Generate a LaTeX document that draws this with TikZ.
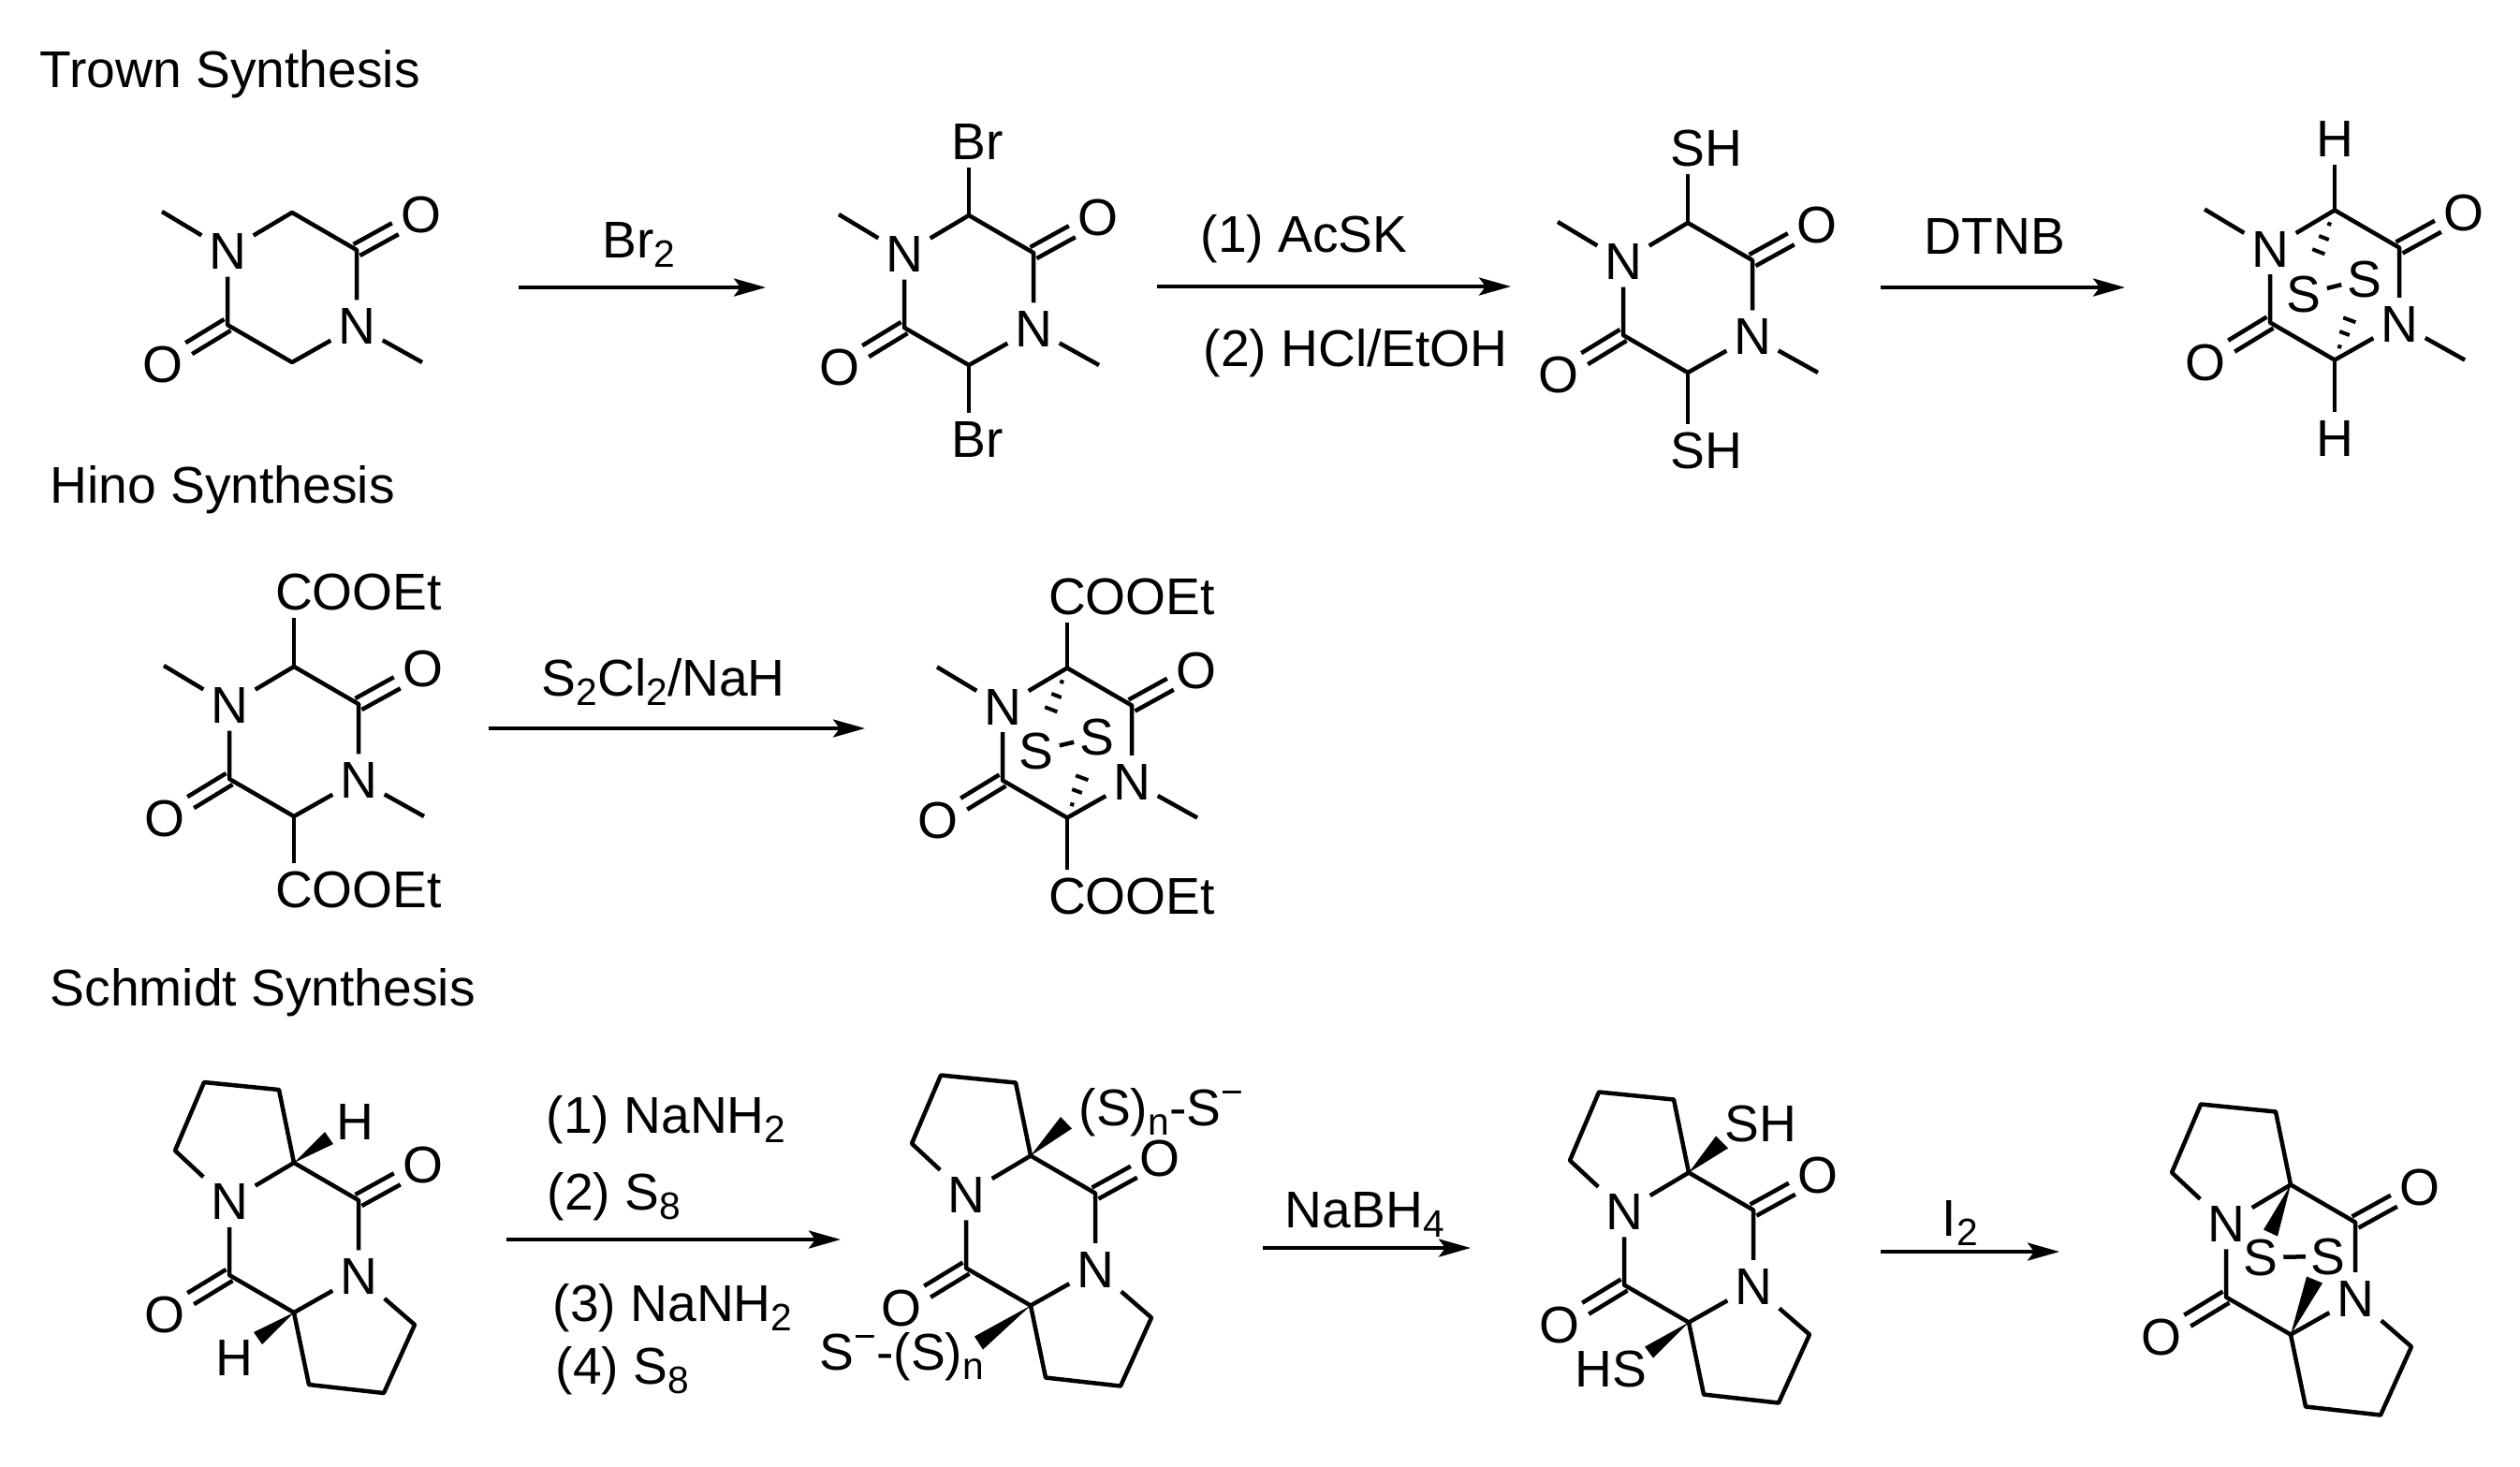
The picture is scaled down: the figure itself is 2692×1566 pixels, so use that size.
\documentclass[tikz,border=0pt]{standalone}
\usepackage{fontspec}
\setmainfont{Liberation Sans}
\usetikzlibrary{calc,arrows.meta}
\def\chemsub#1{\raisebox{-3.1pt}{\fontsize{11.6}{12}\selectfont #1}}
\def\chemsup#1{\raisebox{6.2pt}{\fontsize{11.6}{12}\selectfont #1}}
\tikzset{
	bond/.style={line width=0.045cm,line join=round},
	hash/.style={line width=0.04cm},
	atom/.style={rectangle,inner sep=0pt,minimum width=0.54cm,minimum height=0.54cm,text height=11.2pt,text depth=0pt},
	lbl/.style={anchor=base west,inner sep=0pt},
	dblup/.style={transform canvas={shift={(-3.5,-6)}}},
	dbldown/.style={transform canvas={shift={(3.5,6)}}},
	rxn/.style={line width=0.04cm,-{Stealth[length=0.34cm,width=0.19cm,inset=0.07cm]}}
}
\def\dkp#1(#2,#3){
	\begin{scope}[shift={(#2,#3)}]
		\coordinate (#1ct) at (0,-80);
		\coordinate (#1co) at (69,-40);
		\coordinate (#1cb) at (0,80);
		\coordinate (#1cp) at (-69,40);
		\coordinate (#1ma) at (-139,-81);
		\coordinate (#1mb) at (139,80);
		\coordinate (#1ra) at (-127,-93);
		\coordinate (#1rb) at (-96,-166);
		\coordinate (#1rc) at (-16,-158);
		\coordinate (#1rd) at (129,93);
		\coordinate (#1re) at (96,166);
		\coordinate (#1rf) at (16,157);
		\node[atom] (#1n) at (-69,-39) {N};
		\node[atom] (#1m) at (69,41) {N};
		\node[atom] (#1o) at (138,-78) {O};
		\node[atom] (#1p) at (-138,82) {O};
		\draw[bond] (#1n) -- (#1ct) -- (#1co) -- (#1m) -- (#1cb) -- (#1cp) -- (#1n);
		\draw[bond,dblup] (#1co) -- (#1o);
		\draw[bond,dbldown] (#1co) -- (#1o);
		\draw[bond,dblup] (#1cp) -- (#1p);
		\draw[bond,dbldown] (#1cp) -- (#1p);
	\end{scope}
}
\def\dkpmethyl#1{\draw[bond] (#1n) -- (#1ma); \draw[bond] (#1m) -- (#1mb);}
\def\dkpprolyl#1{
	\draw[bond] (#1n) -- (#1ra) -- (#1rb) -- (#1rc) -- (#1ct);
	\draw[bond] (#1m) -- (#1rd) -- (#1re) -- (#1rf) -- (#1cb);
}
\def\wedgebond(#1)(#2)(#3){\fill (#1) -- ($(#1)+(#2)$) -- ($(#1)+(#3)$) -- cycle;}
\def\hashbond(#1)(#2){
	\coordinate (hashend) at ($(#1)+(#2)$);
	\foreach \hpos/\hwid in {0.25/0.6,0.5/1.6,0.75/2,1/2.6}{
		\coordinate (hashmid) at ($(#1)!\hpos!(hashend)$);
		\draw[hash] ($(hashmid)!\hwid pt!90:(hashend)$) -- ($(hashmid)!\hwid pt!-90:(hashend)$);
	}
}

\begin{document}
\begin{tikzpicture}[x=0.01cm,y=-0.01cm,every node/.style={font=\fontsize{15.7}{18}\selectfont}]
			\useasboundingbox (0,0) rectangle (2692,1566);
			
			%%%%% TROWN %%%%%
			
			\node[lbl] (trownlabel) at (42,93) {Trown Synthesis};
			
			\dkp{t1}(312,307)
			\dkpmethyl{t1}
			
			\coordinate (a1s) at (554,307);
			\coordinate (a1e) at (818,307);
			\draw[rxn] (a1s) -- (a1e);
			\node[lbl] (a1top) at (643,275) {Br\chemsub{2}};
			
			\dkp{t2}(1035,310)
			\dkpmethyl{t2}
			\node[atom] (t2x) at (1035,151) {B\rlap{r}};
			\node[atom] (t2y) at (1035,469) {B\rlap{r}};
			\draw[bond] (t2ct) -- (t2x);
			\draw[bond] (t2cb) -- (t2y);
			
			\coordinate (a2s) at (1236,306);
			\coordinate (a2e) at (1614,306);
			\draw[rxn] (a2s) -- (a2e);
			\node[lbl] (a2top) at (1282,269) {(1) AcSK};
			\node[lbl] (a2bot) at (1285,391) {(2) HCl/EtOH};
			
			\dkp{t3}(1803,318)
			\dkpmethyl{t3}
			\node[atom] (t3x) at (1803,158) {S\rlap{H}};
			\node[atom] (t3y) at (1803,481) {S\rlap{H}};
			\draw[bond] (t3ct) -- (t3x);
			\draw[bond] (t3cb) -- (t3y);
			
			\coordinate (a3s) at (2009,307);
			\coordinate (a3e) at (2270,307);
			\draw[rxn] (a3s) -- (a3e);
			\node[lbl] (a3top) at (2055,271) {DTNB};
			
			\dkp{t4}(2494,304.5)
			\dkpmethyl{t4}
			\node[atom] (t4x) at (2494,148) {H};
			\node[atom] (t4y) at (2494,468) {H};
			\draw[bond] (t4ct) -- (t4x);
			\draw[bond] (t4cb) -- (t4y);
			\node[atom] (t4s) at (2461,314) {S};
			\node[atom] (t4u) at (2526,298) {S};
			\draw[bond,shorten <=-0.03cm,shorten >=-0.03cm] (t4s) -- (t4u);
			\hashbond(t4ct)(-23,59)
			\hashbond(t4cb)(21,-57)
			
			%%%%% HINO %%%%%
			
			\node[lbl] (hinolabel) at (53,537) {Hino Synthesis};
			
			\dkp{h1}(314,792)
			\dkpmethyl{h1}
			\node[atom] (h1x) at (314,632) {C\rlap{OOEt}};
			\node[atom] (h1y) at (314,950) {C\rlap{OOEt}};
			\draw[bond] (h1ct) -- (h1x);
			\draw[bond] (h1cb) -- (h1y);
			
			\coordinate (a4s) at (522,778);
			\coordinate (a4e) at (924,778);
			\draw[rxn] (a4s) -- (a4e);
			\node[lbl] (a4top) at (578,743) {S\chemsub{2}Cl\chemsub{2}/NaH};
			
			\dkp{h2}(1140,793.5)
			\dkpmethyl{h2}
			\node[atom] (h2x) at (1140,637) {C\rlap{OOEt}};
			\node[atom] (h2y) at (1140,957) {C\rlap{OOEt}};
			\draw[bond] (h2ct) -- (h2x);
			\draw[bond] (h2cb) -- (h2y);
			\node[atom] (h2s) at (1107,802) {S};
			\node[atom] (h2u) at (1172,787) {S};
			\draw[bond,shorten <=-0.03cm,shorten >=-0.03cm] (h2s) -- (h2u);
			\hashbond(h2ct)(-23,59)
			\hashbond(h2cb)(21,-57)
			
			%%%%% SCHMIDT %%%%%
			
			\node[lbl] (schmidtlabel) at (53,1074) {Schmidt Synthesis};
			
			\dkp{s1}(314,1322)
			\dkpprolyl{s1}
			\wedgebond(s1ct)(33,-33)(42,-20)
			\wedgebond(s1cb)(-43,21)(-34,34)
			\node[atom] (s1x) at (379,1198) {H};
			\node[atom] (s1y) at (250,1450) {H};
			
			\coordinate (a5s) at (541,1324);
			\coordinate (a5e) at (898,1324);
			\draw[rxn] (a5s) -- (a5e);
			\node[lbl] (a5a) at (583,1210) {(1) NaNH\chemsub{2}};
			\node[lbl] (a5b) at (584,1292) {(2) S\chemsub{8}};
			\node[lbl] (a5c) at (590,1411) {(3) NaNH\chemsub{2}};
			\node[lbl] (a5d) at (593,1478) {(4) S\chemsub{8}};
			
			\dkp{s2}(1101,1314.5)
			\dkpprolyl{s2}
			\wedgebond(s2ct)(32,-41.5)(44,-29)
			\wedgebond(s2cb)(-60,33)(-51,47)
			\node[lbl] (s2x) at (1152,1202) {(S)\chemsub{n}-S\chemsup{−}};
			\node[lbl] (s2y) at (875,1463) {S\chemsup{−}-(S)\chemsub{n}};
			
			\coordinate (a6s) at (1349,1333);
			\coordinate (a6e) at (1571,1333);
			\draw[rxn] (a6s) -- (a6e);
			\node[lbl] (a6top) at (1372,1311) {NaBH\chemsub{4}};
			
			\dkp{s3}(1804,1332.5)
			\dkpprolyl{s3}
			\wedgebond(s3ct)(29,-39)(42,-26)
			\wedgebond(s3cb)(-47,26)(-38,38)
			\node[atom] (s3x) at (1881,1200) {SH};
			\node[atom] (s3y) at (1721,1462) {HS};
			
			\coordinate (a7s) at (2009,1337);
			\coordinate (a7e) at (2200,1337);
			\draw[rxn] (a7s) -- (a7e);
			\node[lbl] (a7top) at (2074,1320) {I\chemsub{2}};
			
			\dkp{s4}(2447,1345.5)
			\dkpprolyl{s4}
			\node[atom] (s4s) at (2415,1343) {S};
			\node[atom] (s4u) at (2487,1342) {S};
			\draw[bond,shorten <=-0.035cm,shorten >=-0.035cm] (s4s) -- (s4u);
			\wedgebond(s4ct)(-29,48)(-14,55)
			\wedgebond(s4cb)(17,-62)(34,-55)
		\end{tikzpicture}
\end{document}
